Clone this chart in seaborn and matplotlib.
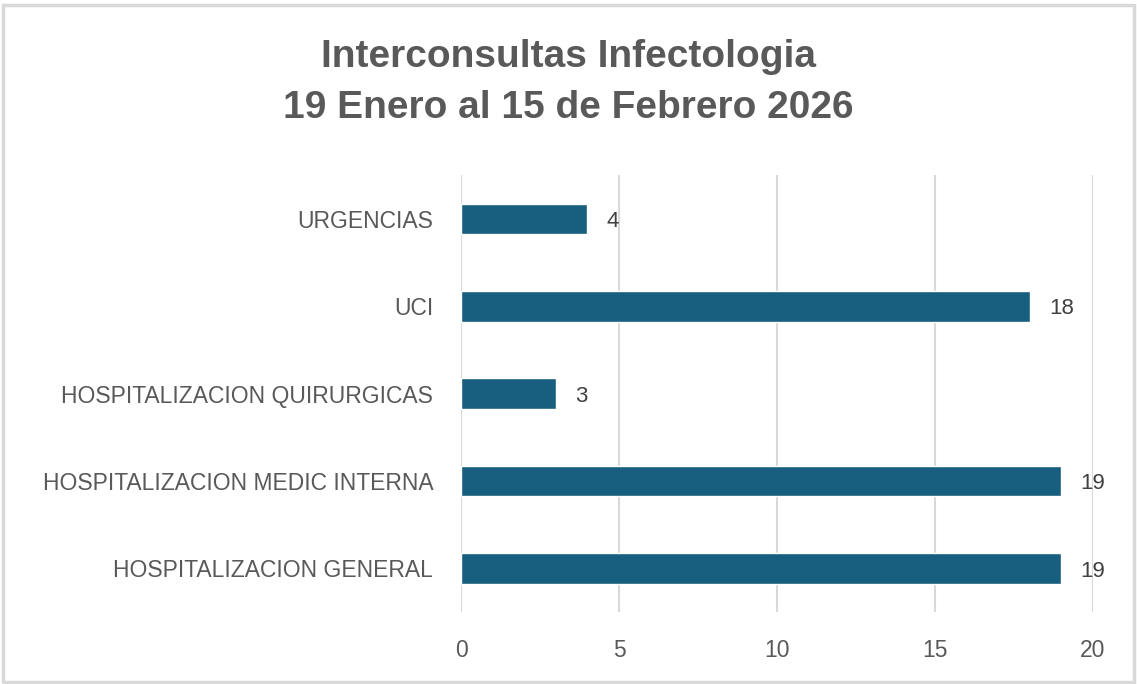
import pandas as pd
import seaborn as sns
import matplotlib.pyplot as plt
from matplotlib.patches import Rectangle

# Chart data
servicios = ["URGENCIAS", "UCI", "HOSPITALIZACION QUIRURGICAS",
             "HOSPITALIZACION MEDIC INTERNA", "HOSPITALIZACION GENERAL"]
interconsultas = [4, 18, 3, 19, 19]
x_ticks = [0, 5, 10, 15, 20]

df = pd.DataFrame({"Servicio": servicios, "Interconsultas": interconsultas})

sns.set_style("white")
plt.rcParams["font.family"] = ["Liberation Sans", "DejaVu Sans"]

fig = plt.figure(figsize=(11.37, 6.84), dpi=100)
ax = fig.add_axes([0.4055, 0.105, 0.5558, 0.639])

sns.barplot(data=df, x="Interconsultas", y="Servicio", color="#175e7f",
            saturation=1, width=0.35, ax=ax, zorder=3)

# Data labels
for p, v in zip(ax.patches, interconsultas):
    ax.text(p.get_width() + 0.6, p.get_y() + p.get_height() / 2 + 0.03, str(v),
            va="center", ha="left", fontsize=16, color="#404040")

ax.set_xlim(0, 20)
ax.set_ylim(4.5, -0.5)
ax.set_xticks(x_ticks)
ax.set_xlabel("")
ax.set_ylabel("")
ax.grid(axis="x", color="#d9d9d9", linewidth=1.5, zorder=0)
ax.tick_params(axis="x", length=0, pad=19, labelsize=16.5, labelcolor="#595959")
ax.tick_params(axis="y", length=0, pad=20, labelsize=16.5, labelcolor="#595959")
sns.despine(ax=ax, left=True, bottom=True)

fig.text(0.5, 0.917, "Interconsultas Infectologia", ha="center", va="center",
         fontsize=28, fontweight="bold", color="#595959",
         family=["Liberation Sans Narrow", "Liberation Sans", "DejaVu Sans"])
fig.text(0.5, 0.842, "19 Enero al 15 de Febrero 2026", ha="center", va="center",
         fontsize=28, fontweight="bold", color="#595959",
         family=["Liberation Sans Narrow", "Liberation Sans", "DejaVu Sans"])

# Outer frame of the chart
fig.patches.append(Rectangle((0.003, 0.003), 0.994, 0.99, transform=fig.transFigure,
                             fill=False, edgecolor="#d9d9d9", linewidth=2.5))

fig.savefig("out.png", dpi=100)
